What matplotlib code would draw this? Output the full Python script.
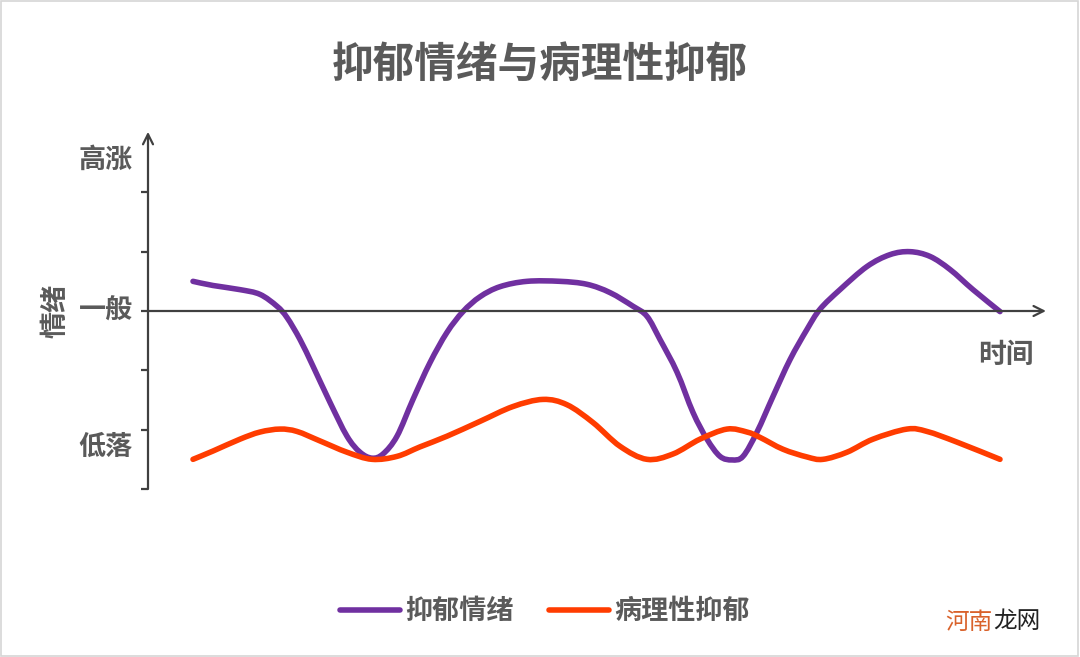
import matplotlib
matplotlib.use("Agg")
import matplotlib.pyplot as plt
from matplotlib.lines import Line2D
from matplotlib.patches import Rectangle, PathPatch
from matplotlib.path import Path

plt.rcParams['font.family'] = ['Noto Sans CJK SC', 'DejaVu Sans']

title = "抑郁情绪与病理性抑郁"
series_names = ["抑郁情绪", "病理性抑郁"]
y_tick_labels = ["高涨", "一般", "低落"]
y_tick_label_pos = [2.55, 0.0, -2.29]
y_label = "情绪"
x_label = "时间"
watermark = ["河南", "龙网"]

# time (arbitrary units) and mood level values
t_mood = [0.45, 0.65, 0.92, 1.12, 1.29, 1.39, 1.52, 1.65, 1.82, 1.99, 2.12, 2.24,
          2.35, 2.49, 2.65, 2.82, 2.99, 3.15, 3.32, 3.52, 3.79, 4.12, 4.39, 4.62,
          4.85, 4.99, 5.12, 5.29, 5.45, 5.59, 5.72, 5.84, 5.95, 6.09, 6.25, 6.42,
          6.59, 6.72, 6.92, 7.19, 7.42, 7.62, 7.82, 8.02, 8.25, 8.52]
v_mood = [0.50, 0.43, 0.36, 0.28, 0.08, -0.11, -0.48, -0.93, -1.54, -2.11, -2.38, -2.48,
          -2.41, -2.11, -1.49, -0.87, -0.36, -0.01, 0.24, 0.41, 0.50, 0.50, 0.45, 0.31,
          0.08, -0.09, -0.48, -1.03, -1.71, -2.16, -2.45, -2.51, -2.45, -2.04, -1.44, -0.82,
          -0.31, 0.03, 0.36, 0.75, 0.95, 1.00, 0.92, 0.70, 0.36, -0.01]

t_path = [0.45, 0.65, 0.92, 1.12, 1.32, 1.49, 1.72, 1.99, 2.24, 2.49, 2.72, 2.99,
          3.32, 3.65, 3.95, 4.19, 4.45, 4.72, 4.99, 5.25, 5.52, 5.79, 5.99, 6.12,
          6.35, 6.59, 6.75, 6.99, 7.25, 7.59, 7.79, 8.09, 8.52]
v_path = [-2.50, -2.36, -2.16, -2.04, -1.99, -2.03, -2.19, -2.38, -2.50, -2.45, -2.29, -2.11,
          -1.86, -1.61, -1.49, -1.58, -1.88, -2.28, -2.50, -2.41, -2.16, -1.99, -2.04, -2.13,
          -2.33, -2.46, -2.50, -2.38, -2.16, -1.99, -2.03, -2.21, -2.50]

y_ticks = [-3, -2, -1, 0, 1, 2]

purple = "#7030A0"
red = "#FF3C00"
axis_col = "#404040"
text_col = "#5a5a5a"


def smooth_path(xs, ys, k=1 / 6):
    """Catmull-Rom style cubic Bezier path through the given points."""
    n = len(xs)
    verts = [(xs[0], ys[0])]
    codes = [Path.MOVETO]
    for i in range(n - 1):
        x0, y0 = (xs[i - 1], ys[i - 1]) if i > 0 else (xs[i], ys[i])
        x1, y1 = xs[i], ys[i]
        x2, y2 = xs[i + 1], ys[i + 1]
        x3, y3 = (xs[i + 2], ys[i + 2]) if i + 2 < n else (x2, y2)
        c1 = (x1 + (x2 - x0) * k, y1 + (y2 - y0) * k)
        c2 = (x2 - (x3 - x1) * k, y2 - (y3 - y1) * k)
        verts += [c1, c2, (x2, y2)]
        codes += [Path.CURVE4] * 3
    return Path(verts, codes)


W, H = 1080, 657
fig = plt.figure(figsize=(W / 100, H / 100), dpi=100)
fig.patch.set_facecolor("white")
fig.add_artist(Rectangle((0.001, 0.001), 0.997, 0.997, transform=fig.transFigure,
                         fill=False, edgecolor="#d6d6d6", linewidth=1.2))

ax = fig.add_axes([148 / W, (H - 489) / H, 900 / W, 356 / H])
ax.set_xlim(0, 9.0)
ax.set_ylim(-3, 3)
ax.axis("off")

# axes with arrows
ax.annotate("", xy=(0, 3.02), xytext=(0, -3), xycoords="data",
            arrowprops=dict(arrowstyle="->", color=axis_col, lw=1.6,
                            mutation_scale=18, shrinkA=0, shrinkB=0), annotation_clip=False)
ax.annotate("", xy=(8.98, 0), xytext=(0, 0), xycoords="data",
            arrowprops=dict(arrowstyle="->", color=axis_col, lw=1.6,
                            mutation_scale=18, shrinkA=0, shrinkB=0), annotation_clip=False)
for yt in y_ticks:
    ax.plot([-0.07, 0], [yt, yt], color=axis_col, lw=1.6, clip_on=False, solid_capstyle="butt")

for xs, ys, col in [(t_mood, v_mood, purple), (t_path, v_path, red)]:
    ax.add_patch(PathPatch(smooth_path(xs, ys), fill=False, edgecolor=col, lw=4.0,
                           capstyle="round", joinstyle="round", clip_on=False))

for lab, pos in zip(y_tick_labels, y_tick_label_pos):
    ax.text(-0.15, pos, lab, ha="right", va="center", fontsize=19.5,
            fontweight="bold", color=text_col)
ax.text(-0.92, 0, y_label, ha="center", va="center", rotation=90, fontsize=19.5,
        fontweight="bold", color=text_col)
ax.text(8.58, -0.74, x_label, ha="center", va="center", fontsize=20,
        fontweight="bold", color=text_col)

fig.text(540 / W, 1 - 65 / H, title, ha="center", va="center", fontsize=30,
         fontweight="bold", color=text_col)

handles = [Line2D([], [], color=purple, lw=4.0, solid_capstyle="round"),
           Line2D([], [], color=red, lw=4.0, solid_capstyle="round")]
leg = fig.legend(handles, series_names, loc="center", bbox_to_anchor=(545 / W, 1 - 611 / H),
                 ncol=2, frameon=False, handlelength=2.2, handletextpad=0.2,
                 columnspacing=1.3, prop=dict(size=19.5, weight="bold"))
for t in leg.get_texts():
    t.set_color(text_col)

fig.text(945 / W, 1 - 622 / H, watermark[0], ha="left", va="center", fontsize=17,
         color="#d9622b")
fig.text(993 / W, 1 - 622 / H, watermark[1], ha="left", va="center", fontsize=17,
         color="#222222")

fig.savefig("out.png", dpi=100)
